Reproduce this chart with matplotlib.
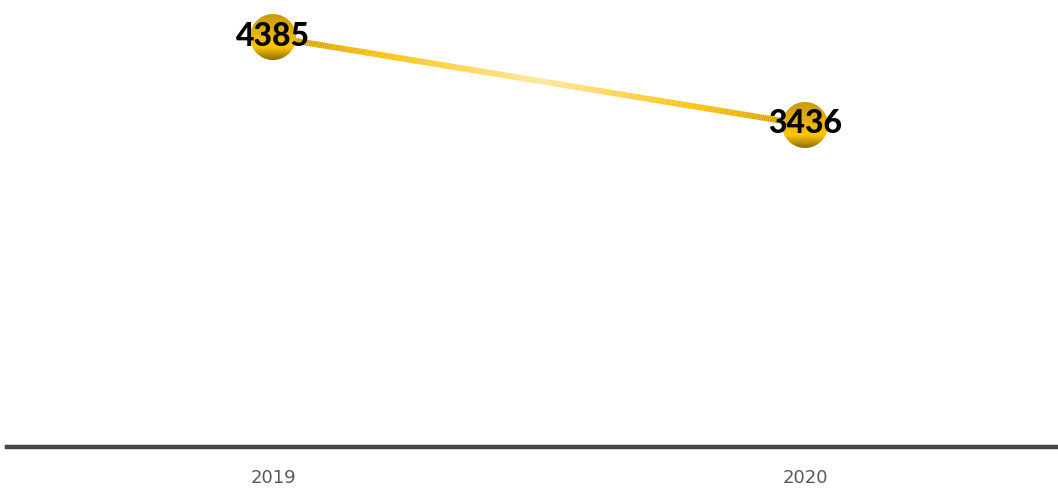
"""Two-year line with gold gradient line, gradient markers and bold value labels."""
import numpy as np
import matplotlib.pyplot as plt
from matplotlib.collections import LineCollection
from matplotlib.colors import LinearSegmentedColormap
from matplotlib.offsetbox import OffsetImage, AnnotationBbox

years = ['2019', '2020']
values = [4385, 3436]

W, H, DPI = 1058, 489, 100

# gold gradient along the line (dark ends, pale middle)
line_cmap = LinearSegmentedColormap.from_list(
    'gold_line', [(0.0, '#C49A06'), (0.2, '#FFC000'), (0.5, '#FFE699'),
                  (0.8, '#FFC000'), (1.0, '#C49A06')])
# vertical gradient for the round markers (top -> bottom)
dot_cmap = LinearSegmentedColormap.from_list(
    'gold_dot', [(0.0, '#C99A08'), (0.45, '#E8B40C'), (0.72, '#FFC600'),
                 (1.0, '#8E6A08')])


def gradient_dot(radius=23):
    size = 2 * radius + 2
    yy, xx = np.mgrid[0:size, 0:size] + 0.5
    c = size / 2
    dist = np.hypot(xx - c, yy - c)
    alpha = np.clip(radius - dist + 0.5, 0, 1)
    rgba = dot_cmap(np.clip((yy - c + radius) / (2 * radius), 0, 1))
    rgba[..., 3] = alpha
    return rgba


fig = plt.figure(figsize=(W / DPI, H / DPI), dpi=DPI)
ax = fig.add_axes([7 / W, 47 / H, 1064 / W, 442 / H])
x = np.arange(len(years))
ax.set_xlim(-0.5, len(years) - 0.5)
ax.set_ylim(0, 4800)

# gradient line between the two points
t = np.linspace(0, 1, 300)
xs = x[0] + (x[1] - x[0]) * t
ys = values[0] + (values[1] - values[0]) * t
pts = np.column_stack([xs, ys]).reshape(-1, 1, 2)
segs = np.concatenate([pts[:-1], pts[1:]], axis=1)
lc = LineCollection(segs, colors=line_cmap(t[:-1]), linewidth=4.3,
                    capstyle='butt', zorder=2)
ax.add_collection(lc)

dot = gradient_dot()
for xi, v in zip(x, values):
    ab = AnnotationBbox(OffsetImage(dot, zoom=1, dpi_cor=False), (xi, v),
                        frameon=False, pad=0, zorder=3)
    ax.add_artist(ab)
    ax.text(xi, v + 20, f'{v}', ha='center', va='center', fontsize=23,
            fontweight=900, color='black',
            family=['Lato', 'DejaVu Sans'], zorder=4)

ax.tick_params(axis='x', length=0, pad=15, labelsize=13, labelcolor='#595959')
ax.set_xticks(x)
ax.set_xticklabels(years)
for lab in ax.get_xticklabels():
    lab.set_family(['Liberation Sans Narrow', 'Liberation Sans', 'DejaVu Sans'])
ax.set_yticks([])
for side in ['top', 'right', 'left']:
    ax.spines[side].set_visible(False)
ax.spines['bottom'].set_position(('outward', 4.6))
ax.spines['bottom'].set_color('#444444')
ax.spines['bottom'].set_linewidth(3.2)
ax.patch.set_alpha(0)

fig.savefig('out.png', dpi=DPI)
